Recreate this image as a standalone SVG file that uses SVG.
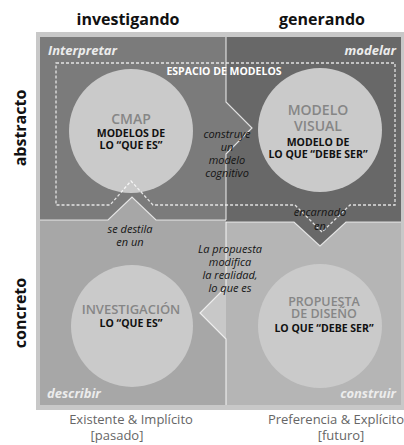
<svg xmlns="http://www.w3.org/2000/svg" width="404" height="445" viewBox="0 0 404 445">
<style>
.hdr{font-family:"Open Sans","Noto Sans",sans-serif;font-weight:700;font-size:16px;fill:#111;text-anchor:middle}
.corner{font-family:"Open Sans","Noto Sans",sans-serif;font-weight:700;font-style:italic;font-size:13px;fill:#ececec}
.ttl{font-family:"Open Sans","Noto Sans",sans-serif;font-weight:600;fill:#868686;text-anchor:middle}
.sub{font-family:"Open Sans","Noto Sans",sans-serif;font-weight:700;font-size:10.5px;fill:#111;text-anchor:middle}
.lbl{font-family:"Open Sans","Noto Sans",sans-serif;font-style:italic;font-weight:500;font-size:11px;fill:#141414;text-anchor:middle}
.foot{font-family:"Open Sans","Noto Sans",sans-serif;font-size:13px;fill:#666;text-anchor:middle}
.circ{fill:#cacaca}
.edge{fill:none;stroke:#fff;stroke-opacity:0.75;stroke-width:1.2}
</style>
<rect x="0" y="0" width="404" height="445" fill="#fff"/>
<g id="quadrants">
<rect x="36" y="32" width="368" height="378" fill="#c8c8c8"/>
<rect id="q-construir" x="226" y="222" width="175" height="183" fill="#b5b5b5"/>
<polygon id="q-describir" points="40,220 108,220 132,197 156,220 226,220 226,287 200,313 226,339 226,405 40,405" fill="#a7a7a7"/>
<polygon id="q-modelar" points="226,37 401,37 401,222 346,222 320,246 294,222 226,222 226,154 252,128 226,102" fill="#686868"/>
<polygon id="q-interpretar" points="40,37 226,37 226,102 252,128 226,154 226,220 156,220 132,197 108,220 40,220" fill="#7b7b7b"/>
</g>
<g id="axis-labels">
<text class="hdr" x="128" y="25">investigando</text>
<text class="hdr" x="322" y="25">generando</text>
<text class="hdr" transform="translate(26,128) rotate(-90)">abstracto</text>
<text class="hdr" transform="translate(26,313) rotate(-90)">concreto</text>
<text class="corner" x="48" y="55">Interpretar</text>
<text class="corner" x="396" y="55" text-anchor="end">modelar</text>
<text class="corner" x="47" y="398">describir</text>
<text class="corner" x="396" y="398" text-anchor="end">construir</text>
<text class="foot" x="131" y="424">Existente &amp; Implícito</text>
<text class="foot" x="117" y="440">[pasado]</text>
<text class="foot" x="336" y="424">Preferencia &amp; Explícito</text>
<text class="foot" x="341" y="440">[futuro]</text>
</g>
<g id="node-cmap">
<circle class="circ" cx="131" cy="131" r="62"/>
<text class="ttl" x="131" y="124" font-size="14">CMAP</text>
<text class="sub" x="131" y="137">MODELOS DE</text>
<text class="sub" x="131" y="149">LO “QUE ES”</text>
</g>
<g id="node-modelo-visual">
<circle class="circ" cx="320" cy="130" r="62"/>
<text class="ttl" x="318" y="115" font-size="14">MODELO</text>
<text class="ttl" x="318" y="131" font-size="14">VISUAL</text>
<text class="sub" x="318" y="146">MODELO DE</text>
<text class="sub" x="318" y="158">LO QUE “DEBE SER”</text>
</g>
<g id="node-investigacion">
<circle class="circ" cx="132" cy="326" r="61"/>
<text class="ttl" x="131" y="314" font-size="13">INVESTIGACIÓN</text>
<text class="sub" x="131" y="327">LO “QUE ES”</text>
</g>
<g id="node-propuesta">
<circle class="circ" cx="320" cy="326" r="62"/>
<text class="ttl" x="324" y="306" font-size="12.5">PROPUESTA</text>
<text class="ttl" x="324" y="318" font-size="12.5">DE DISEÑO</text>
<text class="sub" x="324" y="332">LO QUE “DEBE SER”</text>
</g>
<g id="espacio-de-modelos">
<path d="M56,63 H395 V205 H350 L322,232 L295,205 H153 L131,181 L110,205 H56 Z" fill="none" stroke="#fff" stroke-opacity="0.8" stroke-width="1.3" stroke-dasharray="3 2"/>
<text x="224" y="75" font-family="'Open Sans','Noto Sans',sans-serif" font-weight="700" font-size="10.5" fill="#fff" text-anchor="middle">ESPACIO DE MODELOS</text>
</g>
<g id="connectors">
<path class="edge" d="M226,37 V102 L252,128 L226,154 V220"/>
<path class="edge" d="M226,222 V287 L200,313 L226,339 V405"/>
<path class="edge" d="M40,220 H108 L132,197 L156,220 H226"/>
<path class="edge" d="M226,222 H294 L320,246 L346,222 H401"/>
<text class="lbl" x="227" y="138">construye</text>
<text class="lbl" x="227" y="151">un</text>
<text class="lbl" x="227" y="164">modelo</text>
<text class="lbl" x="227" y="177">cognitivo</text>
<text class="lbl" x="130" y="233">se destila</text>
<text class="lbl" x="130" y="246">en un</text>
<text class="lbl" x="230" y="253">La propuesta</text>
<text class="lbl" x="230" y="266">modifica</text>
<text class="lbl" x="230" y="279">la realidad,</text>
<text class="lbl" x="230" y="292">lo que es</text>
<text class="lbl" x="320" y="216">encarnado</text>
<text class="lbl" x="320" y="230">en</text>
</g>
</svg>
